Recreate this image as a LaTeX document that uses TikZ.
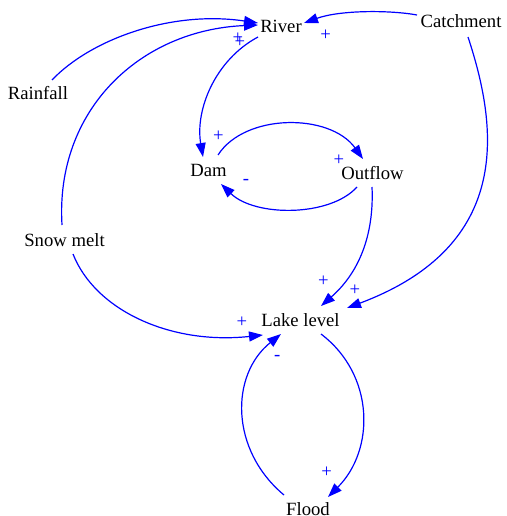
\documentclass[tikz,border=0pt]{standalone}
\usepackage{fontspec}
\setmainfont{Liberation Serif}
\usetikzlibrary{arrows.meta,calc}
\begin{document}
\begin{tikzpicture}[x=1pt,y=-1pt,
  lbl/.style={font=\fontsize{18.67}{20}\selectfont, anchor=base, inner sep=0pt},
  sgn/.style={font=\fontsize{18.67}{20}\selectfont, text=blue, inner sep=0pt},
  link/.style={draw=blue, line width=1.2pt, -{Triangle[length=14pt,width=10pt]}}]
\useasboundingbox (0,0) rectangle (506,516);
% nodes
\node[lbl] (river) at (281,33) {River};
\node[lbl] (catch) at (461,27.5) {Catchment};
\node[lbl] (rain) at (38,99.5) {Rainfall};
\node[lbl] (dam) at (208.5,176.5) {Dam};
\node[lbl] (out) at (372.5,179) {Outflow};
\node[lbl] (snow) at (64.5,246.5) {Snow melt};
\node[lbl] (lake) at (300.5,326) {Lake level};
\node[lbl] (flood) at (308,515) {Flood};
% connectors
\draw[link] ($(rain.base)+(14,-19.5)$) .. controls (90,40) and (170,10) .. ($(river.base)+(-23,-10)$);
\draw[link] ($(snow.base)+(-2.5,-21.5)$) .. controls (55,110) and (140,30) .. ($(river.base)+(-23,-8)$);
\draw[link] ($(catch.base)+(-44,-12.5)$) .. controls (390,10) and (340,10) .. ($(river.base)+(23,-10)$);
\draw[link] ($(catch.base)+(7,9.5)$) .. controls (497,125) and (515,245) .. ($(lake.base)+(46.5,-18)$);
\draw[link] ($(river.base)+(-23,4)$) .. controls (215,60) and (195,110) .. ($(dam.base)+(-5.5,-19.5)$);
\draw[link] ($(dam.base)+(9.5,-21.5)$) .. controls (245,113) and (330,113) .. ($(out.base)+(-9.5,-20)$);
\draw[link] ($(out.base)+(-15.5,8)$) .. controls (330,217) and (255,217) .. ($(dam.base)+(12.5,7.5)$);
\draw[link] ($(out.base)+(-0.5,8)$) .. controls (374,230) and (362,270) .. ($(lake.base)+(20.5,-20)$);
\draw[link] ($(snow.base)+(8.5,7.5)$) .. controls (95,310) and (170,345) .. ($(lake.base)+(-37.5,9)$);
\draw[link] ($(lake.base)+(20.5,8)$) .. controls (375,375) and (375,450) .. ($(flood.base)+(20,-18)$);
\draw[link] ($(flood.base)+(-24,-20)$) .. controls (230,450) and (230,375) .. ($(lake.base)+(-19.5,8)$);
% polarity labels
\node[sgn] (s1) at (238,38) {+};
\node[sgn] (s2) at (240,42) {+};
\node[sgn] (s3) at (325.7,35.7) {+};
\node[sgn] (s4) at (218.3,136.7) {+};
\node[sgn] (s5) at (339,160) {+};
\node[sgn] (s6) at (246,182) {-};
\node[sgn] (s7) at (323.3,281.7) {+};
\node[sgn] (s8) at (355,290) {+};
\node[sgn] (s9) at (242,322) {+};
\node[sgn] (s10) at (277.3,358) {-};
\node[sgn] (s11) at (326.7,472.7) {+};
\end{tikzpicture}
\end{document}
